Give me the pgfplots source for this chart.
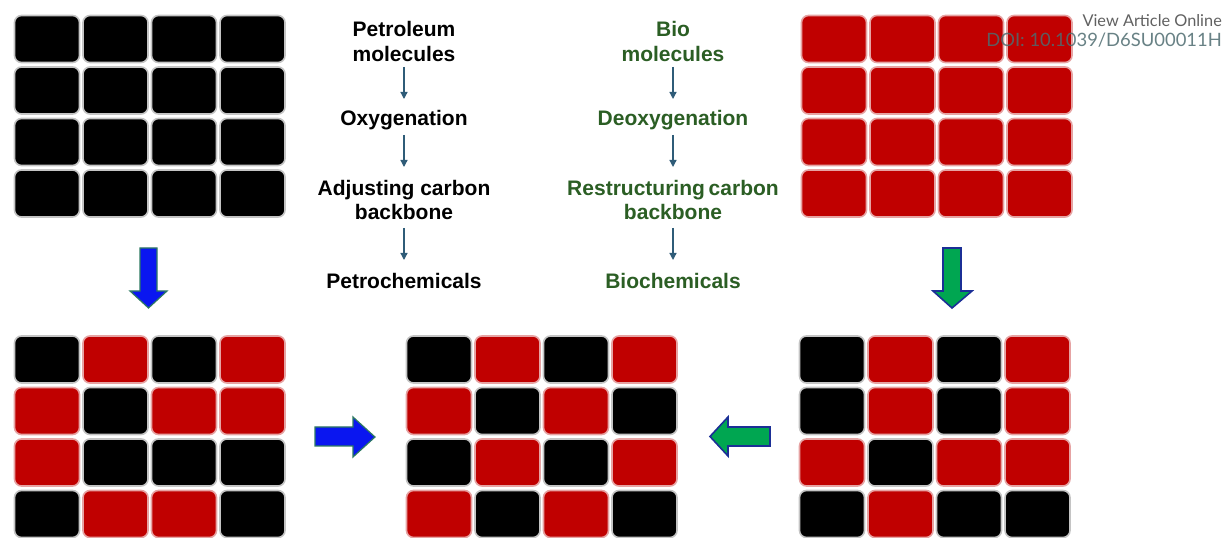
\documentclass[border=0pt]{standalone}
\usepackage{pgfplots}
\pgfplotsset{compat=1.18}
\usepackage{fontspec}
\setmainfont{Liberation Sans}
\newfontfamily\latofont{Lato}
\usetikzlibrary{arrows.meta}
\definecolor{cellred}{HTML}{C00000}
\definecolor{redrim}{HTML}{E6A3A3}
\definecolor{blackrim}{HTML}{C4C4C4}
\definecolor{biogreen}{HTML}{2B5E24}
\definecolor{arrowc}{HTML}{2F5C78}
\definecolor{bluefill}{HTML}{0A16F0}
\definecolor{blueedge}{HTML}{2E7A62}
\definecolor{greenfill}{HTML}{00A651}
\definecolor{greenedge}{HTML}{1B2F96}
\definecolor{doic}{HTML}{4E6C70}
\pgfdeclareplotmark{cell}{%
  \pgfpathmoveto{\pgfpoint{-25.5bp}{-23.5bp}}%
  \pgfpathlineto{\pgfpoint{25.5bp}{-23.5bp}}%
  \pgfpatharc{-90}{0}{7bp}%
  \pgfpathlineto{\pgfpoint{32.5bp}{16.5bp}}%
  \pgfpatharc{0}{90}{7bp}%
  \pgfpathlineto{\pgfpoint{-25.5bp}{23.5bp}}%
  \pgfpatharc{90}{180}{7bp}%
  \pgfpathlineto{\pgfpoint{-32.5bp}{-16.5bp}}%
  \pgfpatharc{180}{270}{7bp}%
  \pgfpathclose
  \pgfusepathqfillstroke}
\begin{document}
\begin{tikzpicture}
\begin{axis}[width=1224bp, height=535bp, scale only axis,
  xmin=0, xmax=1224, ymin=0, ymax=535, y dir=reverse,
  hide axis, clip=true, set layers]
\fill[white] (rel axis cs:0,0) rectangle (rel axis cs:1,1);
% black cells
\addplot[only marks, mark=cell, mark options={fill=black, draw=blackrim, line width=1.6bp}] coordinates {
 (47,39) (115.5,39) (184,39) (252.5,39)
 (47,90.5) (115.5,90.5) (184,90.5) (252.5,90.5)
 (47,142) (115.5,142) (184,142) (252.5,142)
 (47,193.5) (115.5,193.5) (184,193.5) (252.5,193.5)
 (47,359.5) (184,359.5) (115.5,411) (115.5,462.5) (184,462.5) (252.5,462.5) (47,514) (252.5,514)
 (439,359.5) (576,359.5) (507.5,411) (644.5,411) (439,462.5) (576,462.5) (507.5,514) (644.5,514)
 (832,359.5) (969,359.5) (832,411) (969,411) (900.5,462.5) (832,514) (969,514) (1037.5,514)
};
% red cells
\addplot[only marks, mark=cell, mark options={fill=cellred, draw=redrim, line width=1.6bp}] coordinates {
 (834,39) (902.5,39) (971,39) (1039.5,39)
 (834,90.5) (902.5,90.5) (971,90.5) (1039.5,90.5)
 (834,142) (902.5,142) (971,142) (1039.5,142)
 (834,193.5) (902.5,193.5) (971,193.5) (1039.5,193.5)
 (115.5,359.5) (252.5,359.5) (47,411) (184,411) (252.5,411) (47,462.5) (115.5,514) (184,514)
 (507.5,359.5) (644.5,359.5) (439,411) (576,411) (507.5,462.5) (644.5,462.5) (439,514) (576,514)
 (900.5,359.5) (1037.5,359.5) (900.5,411) (1037.5,411) (832,462.5) (969,462.5) (1037.5,462.5) (900.5,514)
};
% big arrows
\addplot[fill=bluefill, draw=blueedge, line width=1.2bp, line join=miter] coordinates {
 (140,248) (157,248) (157,291) (167,291) (148.5,308) (130,291) (140,291)} --cycle;
\addplot[fill=greenfill, draw=greenedge, line width=1.6bp, line join=miter] coordinates {
 (943,248) (961,248) (961,291) (972,291) (952,308) (933,291) (943,291)} --cycle;
\addplot[fill=bluefill, draw=blueedge, line width=1.2bp, line join=miter] coordinates {
 (315,427) (353,427) (353,417) (375,437) (353,457) (353,446) (315,446)} --cycle;
\addplot[fill=greenfill, draw=greenedge, line width=1.6bp, line join=miter] coordinates {
 (770,427) (728,427) (728,417) (710,436.5) (728,456) (728,446) (770,446)} --cycle;
% thin flow arrows
\addplot[arrowc, line width=1.3bp, -{Triangle[length=7bp,width=7bp]}] coordinates {(404,67) (404,99)};
\addplot[arrowc, line width=1.3bp, -{Triangle[length=7bp,width=7bp]}] coordinates {(404,135) (404,167)};
\addplot[arrowc, line width=1.3bp, -{Triangle[length=7bp,width=7bp]}] coordinates {(404,228) (404,260)};
\addplot[arrowc, line width=1.3bp, -{Triangle[length=7bp,width=7bp]}] coordinates {(673,67) (673,99)};
\addplot[arrowc, line width=1.3bp, -{Triangle[length=7bp,width=7bp]}] coordinates {(673,135) (673,167)};
\addplot[arrowc, line width=1.3bp, -{Triangle[length=7bp,width=7bp]}] coordinates {(673,228) (673,260)};
% texts
\begin{scope}[every node/.style={anchor=base, inner sep=0pt, font=\fontsize{21bp}{25bp}\selectfont\bfseries}]
\node at (axis cs:404,37) {Petroleum};
\node at (axis cs:404,62) {molecules};
\node at (axis cs:404,126) {Oxygenation};
\node at (axis cs:404,196) {Adjusting carbon};
\node at (axis cs:404,220) {backbone};
\node at (axis cs:404,289) {Petrochemicals};
\node[text=biogreen] at (axis cs:673,37) {Bio};
\node[text=biogreen] at (axis cs:673,62) {molecules};
\node[text=biogreen] at (axis cs:673,126) {Deoxygenation};
\node[text=biogreen] at (axis cs:673,196) {Restructuring\hspace{-2bp} carbon};
\node[text=biogreen] at (axis cs:673,220) {backbone};
\node[text=biogreen] at (axis cs:673,289) {Biochemicals};
\end{scope}
\begin{pgfonlayer}{axis foreground}
\node[anchor=base east, inner sep=0pt, text=black!62, font=\latofont\fontsize{16.3bp}{20bp}\selectfont] at (axis cs:1222,27) {View Article Online};
\node[anchor=base east, inner sep=0pt, text=doic, font=\latofont\fontsize{18.4bp}{20bp}\selectfont, opacity=0.85] at (axis cs:1222,47) {DOI: 10.1039/D6SU00011H};
\end{pgfonlayer}
\end{axis}
\end{tikzpicture}
\end{document}
